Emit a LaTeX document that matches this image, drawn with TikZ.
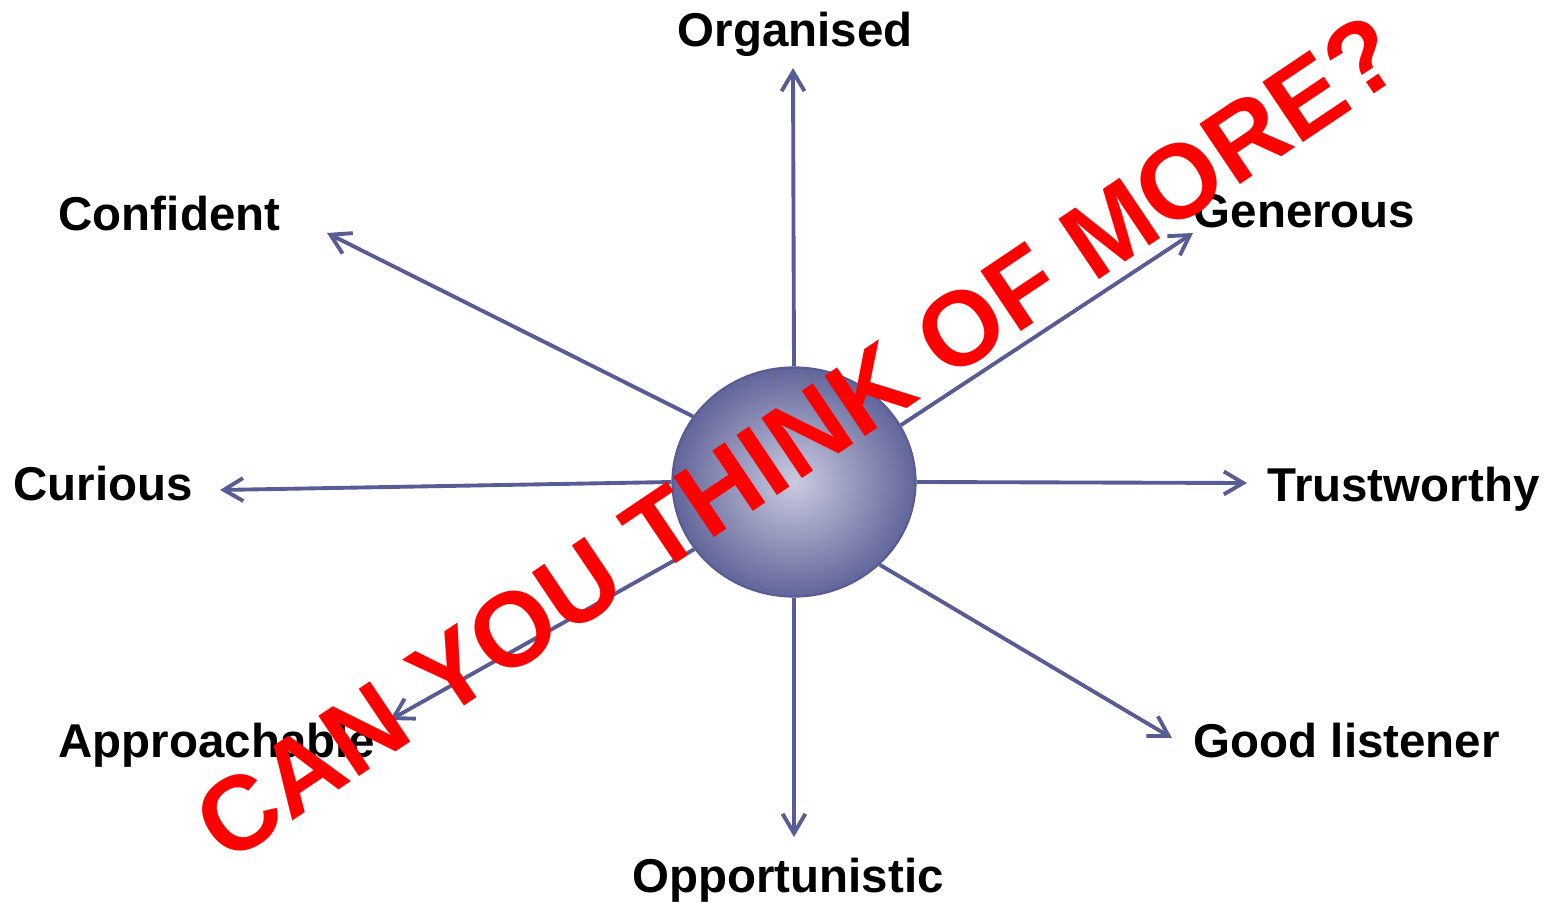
\documentclass[tikz,border=0pt]{standalone}
\usepackage{fontspec}
\setmainfont{Liberation Sans}
\usetikzlibrary{arrows.meta,shapes.geometric}
\definecolor{spoke}{RGB}{88,92,148}
\definecolor{ballin}{RGB}{202,203,224}
\definecolor{ballout}{RGB}{98,101,154}
\tikzset{trait/.style={inner sep=0pt,font=\fontsize{13.5}{16}\selectfont\bfseries}}
\tikzset{spokeline/.style={->,draw=spoke,line width=1.1pt}}
\begin{document}
\begin{tikzpicture}[x=0.01cm,y=-0.01cm,>={Straight Barb[length=5.5pt,width=6.5pt]}]
\useasboundingbox[fill=white] (0,0) rectangle (1550,903);
% \draw[help lines] (0,0) grid[step=100] (1550,903);
\node (ball) [ellipse,draw=spoke,line width=0.6pt,minimum width=2.43cm,minimum height=2.29cm,
  shading=radial,inner color=ballin,outer color=ballout] at (794,482) {};
%
\node (org) [trait,anchor=base] at (795,47) {Organised};
\node (conf) [trait,anchor=base west] at (58,230) {Confident};
\node (gen) [trait,anchor=base west] at (1193,228) {Generous};
\node (cur) [trait,anchor=base west] at (13,500) {Curious};
\node (trust) [trait,anchor=base west] at (1267,501) {Trustworthy};
\node (appr) [trait,anchor=base west] at (58,757) {Approachable};
\node (good) [trait,anchor=base west] at (1193,757) {Good listener};
\node (opp) [trait,anchor=base] at (788,892) {Opportunistic};
%
\coordinate (orgTip) at (793,68);
\coordinate (confTip) at (327,233);
\coordinate (genTip) at (1193,233);
\coordinate (curTip) at (220,490);
\coordinate (trustTip) at (1247,483);
\coordinate (apprTip) at (390,720);
\coordinate (goodTip) at (1172,738);
\coordinate (oppTip) at (794,837);
%
\draw[spokeline] (ball.north) -- (orgTip);
\draw[spokeline] (ball.147) -- (confTip);
\draw[spokeline] (ball.28) -- (genTip);
\draw[spokeline] (ball.west) -- (curTip);
\draw[spokeline] (ball.east) -- (trustTip);
\draw[spokeline] (ball.214) -- (apprTip);
\draw[spokeline] (ball.316) -- (goodTip);
\draw[spokeline] (ball.south) -- (oppTip);
%
\node (more) [inner sep=0pt,rotate=33.9,text=red,font=\fontsize{30}{36}\selectfont\bfseries] at (798,438) {CAN YOU THINK OF MORE?};
\end{tikzpicture}
\end{document}
